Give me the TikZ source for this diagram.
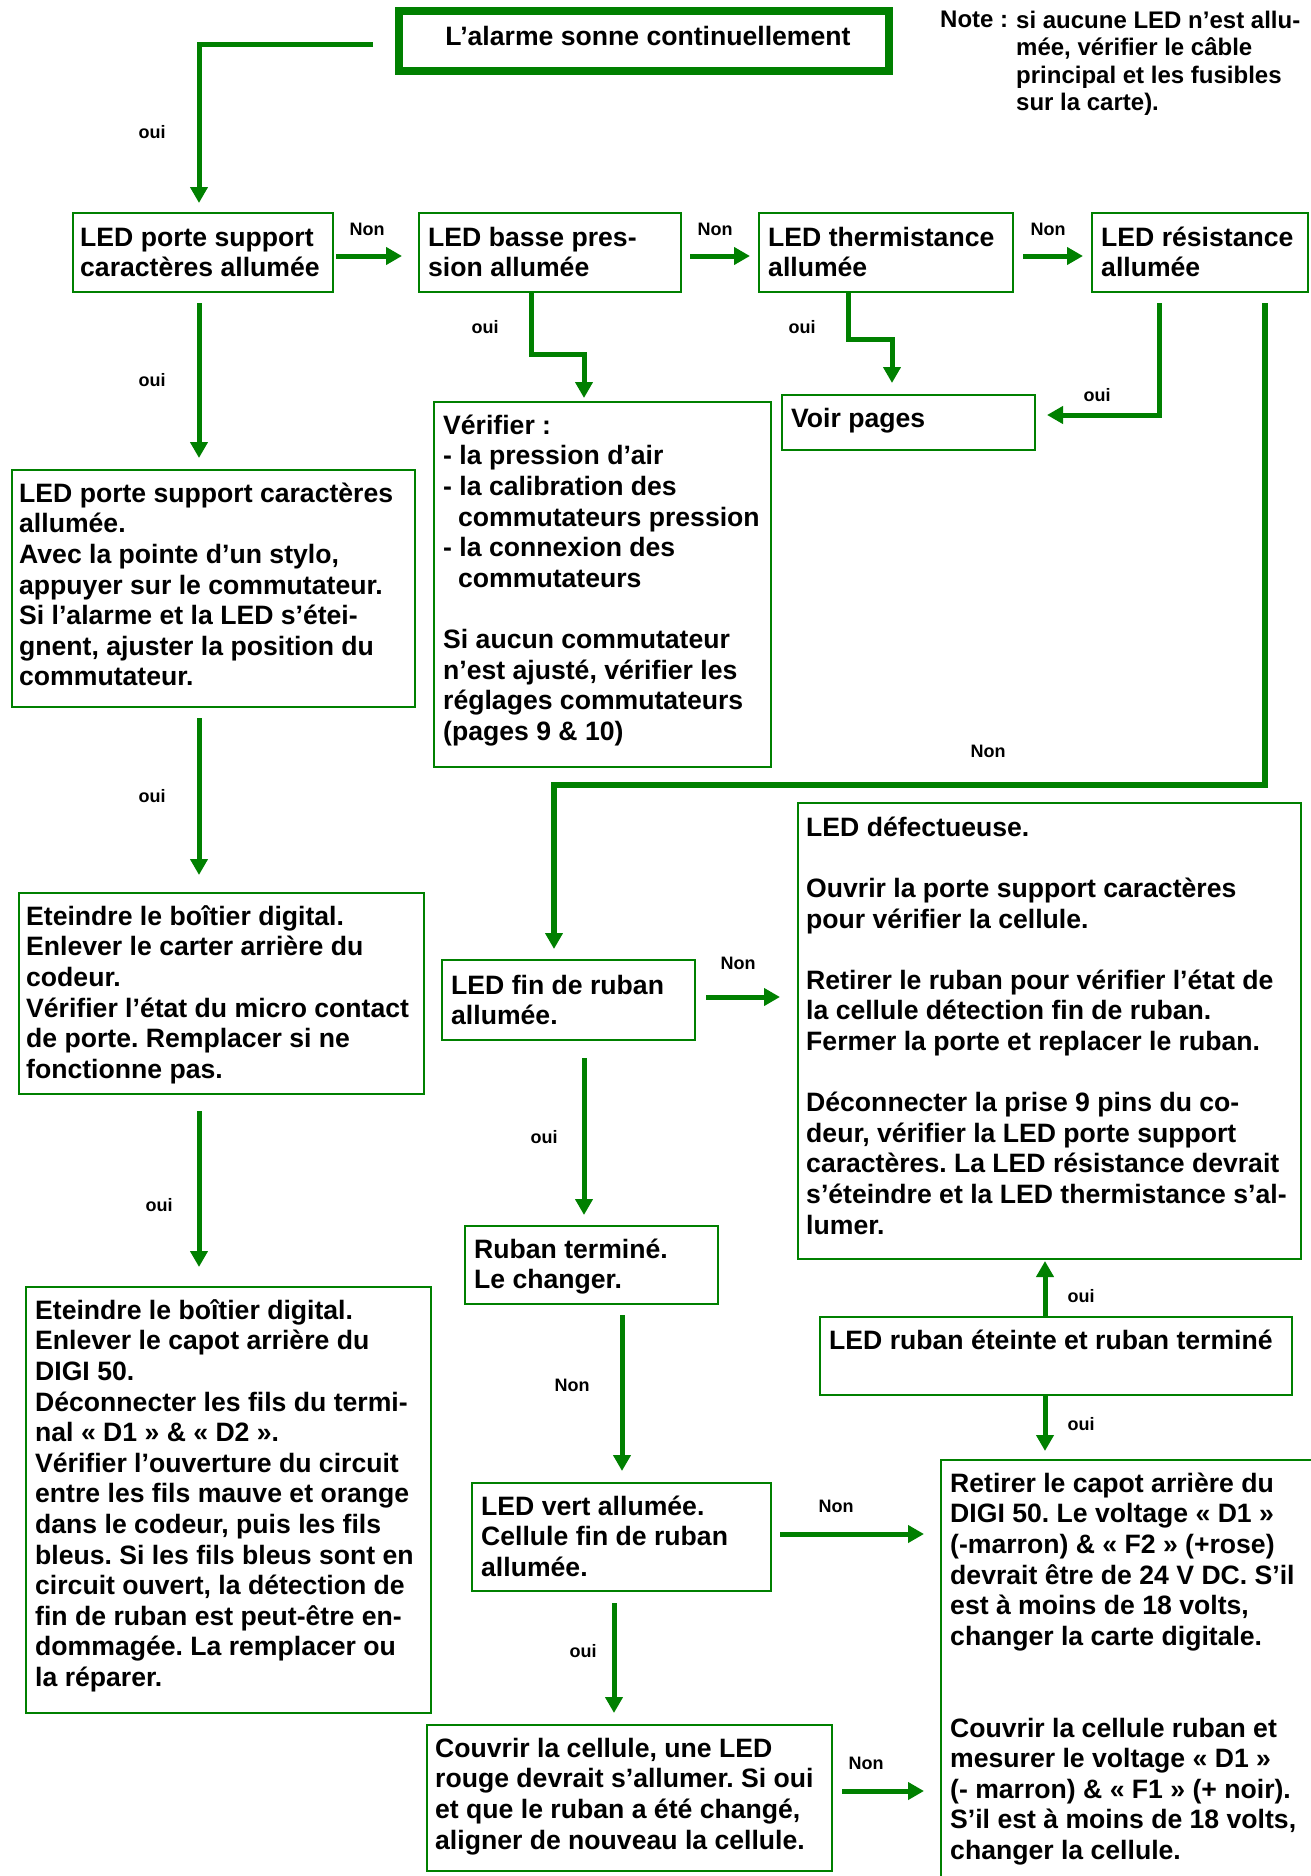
\documentclass[tikz,border=0pt]{standalone}
\usepackage{fontspec}
\setmainfont{Liberation Sans}
\usetikzlibrary{arrows.meta}
\definecolor{flowgreen}{RGB}{0,128,0}
\frenchspacing

% box from outer corner (x1,y1) to (x2,y2), thin green frame
\newcommand\flowbox[5]{\node[box, minimum width={#4-#2-2}, minimum height={#5-#3-2}] (#1) at (#2,#3) {};}
% text block whose first baseline is at (x, y)
\newcommand\flowtext[4]{\node[txt] (#1) at (#2,{#3-28}) {\rule{0pt}{28pt}#4};}
\newcommand\bs{\baselineskip}

\begin{document}
\begin{tikzpicture}[x=1pt,y=-1pt,
  box/.style={draw=flowgreen, line width=2pt, anchor=north west, inner sep=0pt, rectangle},
  txt/.style={anchor=north west, inner sep=0pt, align=left, font=\bfseries\fontsize{26.6}{30.6}\selectfont},
  lbl/.style={inner sep=0pt, font=\bfseries\fontsize{18}{20}\selectfont},
  arr/.style={draw=flowgreen, line width=5pt, -{Triangle[width=17pt,length=16pt]}},
]
\useasboundingbox (0,0) rectangle (1310,1876);

% ---- title box and note
\node[draw=flowgreen, line width=8pt, anchor=north west, inner sep=0pt,
      minimum width=490, minimum height=60] (B0) at (395,7) {};
\node[inner sep=0pt, anchor=base, font=\bfseries\fontsize{26.6}{30.6}\selectfont] (t0) at (648,46) {L’alarme sonne continuellement};
\node[inner sep=0pt, anchor=base west, font=\bfseries\fontsize{24}{27.5}\selectfont] (nh) at (940,28) {Note :};
\node[inner sep=0pt, anchor=north west, align=left, font=\bfseries\fontsize{24}{27.5}\selectfont] (nt) at (1016,2)
  {\rule{0pt}{26pt}si aucune LED n’est allu-\\mée, vérifier le câble\\principal et les fusibles\\sur la carte).};

% ---- boxes
\flowbox{B1}{72}{212}{334}{293}
\flowbox{B2}{418}{212}{682}{293}
\flowbox{B3}{758}{212}{1014}{293}
\flowbox{B4}{1091}{212}{1309}{293}
\flowbox{B5}{11}{469}{416}{708}
\flowbox{B6}{433}{401}{772}{768}
\flowbox{B7}{781}{394}{1036}{451}
\flowbox{B8}{18}{892}{425}{1095}
\flowbox{B9}{25}{1286}{432}{1714}
\flowbox{B10}{441}{959}{696}{1041}
\flowbox{B11}{797}{802}{1302}{1260}
\flowbox{B12}{464}{1225}{719}{1305}
\flowbox{B13}{471}{1482}{772}{1592}
\flowbox{B14}{426}{1724}{833}{1872}
\flowbox{B15}{940}{1459}{1330}{1900}
\flowbox{B16}{819}{1316}{1293}{1396}

% ---- box texts
\flowtext{t1}{80}{246}{LED porte support\\caractères allumée}
\flowtext{t2}{428}{246}{LED basse pres-\\sion allumée}
\flowtext{t3}{768}{246}{LED thermistance\\allumée}
\flowtext{t4}{1101}{246}{LED résistance\\allumée}
\flowtext{t5}{19}{502}{LED porte support caractères\\allumée.\\Avec la pointe d’un stylo,\\appuyer sur le commutateur.\\Si l’alarme et la LED s’étei-\\gnent, ajuster la position du\\commutateur.}
\flowtext{t6}{443}{434}{Vérifier :\\- la pression d’air\\- la calibration des\\\hspace*{15pt}commutateurs pression\\- la connexion des\\\hspace*{15pt}commutateurs\\[\bs]Si aucun commutateur\\n’est ajusté, vérifier les\\réglages commutateurs\\(pages 9 \& 10)}
\flowtext{t7}{791}{427}{Voir pages}
\flowtext{t8}{26}{925}{Eteindre le boîtier digital.\\Enlever le carter arrière du\\codeur.\\Vérifier l’état du micro contact\\de porte. Remplacer si ne\\fonctionne pas.}
\flowtext{t9}{35}{1319}{Eteindre le boîtier digital.\\Enlever le capot arrière du\\DIGI 50.\\Déconnecter les fils du termi-\\nal « D1 » \& « D2 ».\\Vérifier l’ouverture du circuit\\entre les fils mauve et orange\\dans le codeur, puis les fils\\bleus. Si les fils bleus sont en\\circuit ouvert, la détection de\\fin de ruban est peut-être en-\\dommagée. La remplacer ou\\la réparer.}
\flowtext{t10}{451}{994}{LED fin de ruban\\allumée.}
\flowtext{t11}{806}{836}{LED défectueuse.\\[\bs]Ouvrir la porte support caractères\\pour vérifier la cellule.\\[\bs]Retirer le ruban pour vérifier l’état de\\la cellule détection fin de ruban.\\Fermer la porte et replacer le ruban.\\[\bs]Déconnecter la prise 9 pins du co-\\deur, vérifier la LED porte support\\caractères. La LED résistance devrait\\s’éteindre et la LED thermistance s’al-\\lumer.}
\flowtext{t12}{474}{1258}{Ruban terminé.\\Le changer.}
\flowtext{t13}{481}{1515}{LED vert allumée.\\Cellule fin de ruban\\allumée.}
\flowtext{t14}{435}{1757}{Couvrir la cellule, une LED\\rouge devrait s’allumer. Si oui\\et que le ruban a été changé,\\aligner de nouveau la cellule.}
\flowtext{t15}{950}{1492}{Retirer le capot arrière du\\DIGI 50. Le voltage « D1 »\\(-marron) \& « F2 » (+rose)\\devrait être de 24 V DC. S’il\\est à moins de 18 volts,\\changer la carte digitale.\\[2\bs]Couvrir la cellule ruban et\\mesurer le voltage « D1 »\\(- marron) \& « F1 » (+ noir).\\S’il est à moins de 18 volts,\\changer la cellule.}
\flowtext{t16}{829}{1349}{LED ruban éteinte et ruban terminé}

% ---- helper coordinates for connector routes
\coordinate (xA) at (199,0);
\coordinate (xB) at (584,0);
\coordinate (xC) at (622,0);
\coordinate (xD) at (614,0);
\coordinate (xE) at (1045,0);
\coordinate (r1) at (0,256);
\coordinate (r2) at (0,997);
\coordinate (r3) at (0,1534);
\coordinate (r4) at (0,1791);
\coordinate (k0) at (199,45);
\coordinate (k1) at (531,354);
\coordinate (k2) at (584,354);
\coordinate (k3) at (848,339);
\coordinate (k4) at (892,339);
\coordinate (k5) at (1159,415);
\coordinate (k6) at (1265,785);
\coordinate (k7) at (554,785);

% ---- connectors
\draw[arr, shorten <=22pt, shorten >=9pt] (B0.west |- k0) -- (k0) -- (B1.north -| k0);
\draw[arr, shorten <=2pt, shorten >=16pt] (B1.east |- r1) -- (B2.west |- r1);
\draw[arr, shorten <=8pt, shorten >=8pt] (B2.east |- r1) -- (B3.west |- r1);
\draw[arr, shorten <=9pt, shorten >=8pt] (B3.east |- r1) -- (B4.west |- r1);
\draw[arr, shorten <=10pt, shorten >=11pt] (B1.south -| xA) -- (B5.north -| xA);
\draw[arr, shorten >=3pt] (B2.south -| k1) -- (k1) -- (k2) -- (B6.north -| k2);
\draw[arr, shorten >=11pt] (B3.south -| k3) -- (k3) -- (k4) -- (B7.north -| k4);
\draw[arr, shorten <=10pt, shorten >=11pt] (B4.south -| k5) -- (k5) -- (B7.east |- k5);
\draw[arr, line width=6pt, shorten <=10pt, shorten >=10pt] (B4.south -| k6) -- (k6) -- (k7) -- (B10.north -| k7);
\draw[arr, shorten <=10pt, shorten >=17pt] (B5.south -| xA) -- (B8.north -| xA);
\draw[arr, shorten <=16pt, shorten >=19pt] (B8.south -| xA) -- (B9.north -| xA);
\draw[arr, shorten <=10pt, shorten >=17pt] (B10.east |- r2) -- (B11.west |- r2);
\draw[arr, shorten <=17pt, shorten >=10pt] (B10.south -| xB) -- (B12.north -| xB);
\draw[arr, shorten <=10pt, shorten >=11pt] (B12.south -| xC) -- (B13.north -| xC);
\draw[arr, shorten <=8pt, shorten >=16pt] (B13.east |- r3) -- (B15.west |- r3);
\draw[arr, shorten <=11pt, shorten >=11pt] (B13.south -| xD) -- (B14.north -| xD);
\draw[arr, shorten <=9pt, shorten >=16pt] (B14.east |- r4) -- (B15.west |- r4);
\draw[arr, shorten >=1pt] (B16.north -| xE) -- (B11.south -| xE);
\draw[arr, shorten >=8pt] (B16.south -| xE) -- (B15.north -| xE);

% ---- branch labels
\node[lbl] (l1) at (152,132) {oui};
\node[lbl] (l2) at (367,229) {Non};
\node[lbl] (l3) at (715,229) {Non};
\node[lbl] (l4) at (1048,229) {Non};
\node[lbl] (l5) at (152,380) {oui};
\node[lbl] (l6) at (485,327) {oui};
\node[lbl] (l7) at (802,327) {oui};
\node[lbl] (l8) at (1097,395) {oui};
\node[lbl] (l9) at (988,751) {Non};
\node[lbl] (l10) at (152,796) {oui};
\node[lbl] (l11) at (159,1205) {oui};
\node[lbl] (l12) at (738,963) {Non};
\node[lbl] (l13) at (544,1137) {oui};
\node[lbl] (l14) at (572,1385) {Non};
\node[lbl] (l15) at (836,1506) {Non};
\node[lbl] (l16) at (583,1651) {oui};
\node[lbl] (l17) at (866,1763) {Non};
\node[lbl] (l18) at (1081,1296) {oui};
\node[lbl] (l19) at (1081,1424) {oui};
\end{tikzpicture}
\end{document}
